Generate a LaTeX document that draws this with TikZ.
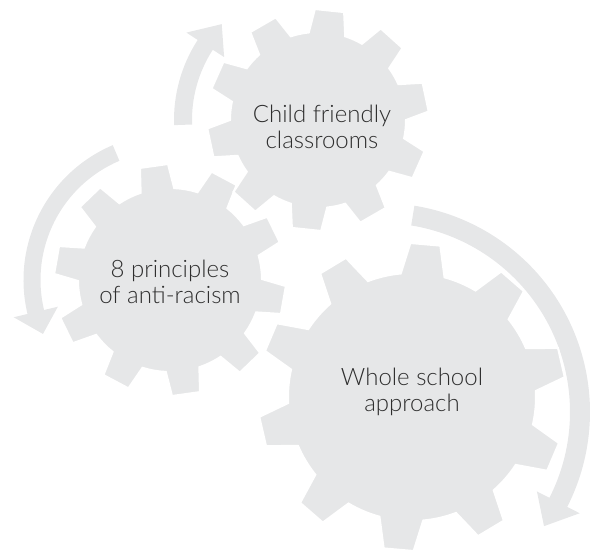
\documentclass[tikz,border=0pt]{standalone}
\usepackage{fontspec}
\setmainfont{Lato Light}
\definecolor{gearfill}{HTML}{E6E7E8}
\definecolor{txtcol}{HTML}{2E2E2E}
% gear: cx, cy (image coords), Rout, Rin, outer half-angle, base half-angle, offset
\newcommand\geardraw[7]{%
  \begin{scope}[shift={(#1,-#2)}]
    \path[gearstyle] ({#7-#6}:#4)
      \foreach \i in {0,...,9} {
        -- ({#7+36*\i-#5}:#3) -- ({#7+36*\i+#5}:#3) -- ({#7+36*\i+#6}:#4)
        arc[start angle={#7+36*\i+#6}, end angle={#7+36*\i+36-#6}, radius=#4]
      } -- cycle;
  \end{scope}}
% arrow band: cx, cy, r, half width, start angle, barb angle, head half width, tip angle
\newcommand\arrowband[8]{%
  \begin{scope}[shift={(#1,-#2)}]
    \fill[arrowstyle] ({#5}:{#3+#4}) arc[start angle={#5}, end angle={#6}, radius={#3+#4}]
      -- ({#6}:{#3+#7}) -- ({#8}:{#3}) -- ({#6}:{#3-#7}) -- ({#6}:{#3-#4})
      arc[start angle={#6}, end angle={#5}, radius={#3-#4}] -- cycle;
  \end{scope}}
\begin{document}
\begin{tikzpicture}[x=1pt,y=1pt,
  gearstyle/.style={fill=gearfill, draw=white, line width=2pt},
  arrowstyle/.style={fill=gearfill},
  gtext/.style={text=txtcol, font=\fontsize{24}{26.5}\selectfont, align=center}]
\useasboundingbox (0,0) rectangle (592,-550);
\arrowband{321}{120}{138}{9}{182}{147}{22.5}{136}
\arrowband{170}{280}{138}{8.5}{113}{193.4}{22.7}{203}
\arrowband{381}{412}{199}{10}{80.8}{-27}{24}{-35}
\geardraw{412}{397}{154}{124}{5.6}{10.2}{85}
\geardraw{170}{280}{116}{92}{7}{10.6}{98}
\geardraw{318}{120}{111}{88}{7.6}{12}{84}
\node[gtext] (g1) at (322,-127) {Child friendly\\classrooms};
\node[gtext] (g2) at (170,-282) {8 principles\\of anti-racism};
\node[gtext] (g3) at (412,-392) {Whole school\\approach};
\end{tikzpicture}
\end{document}
